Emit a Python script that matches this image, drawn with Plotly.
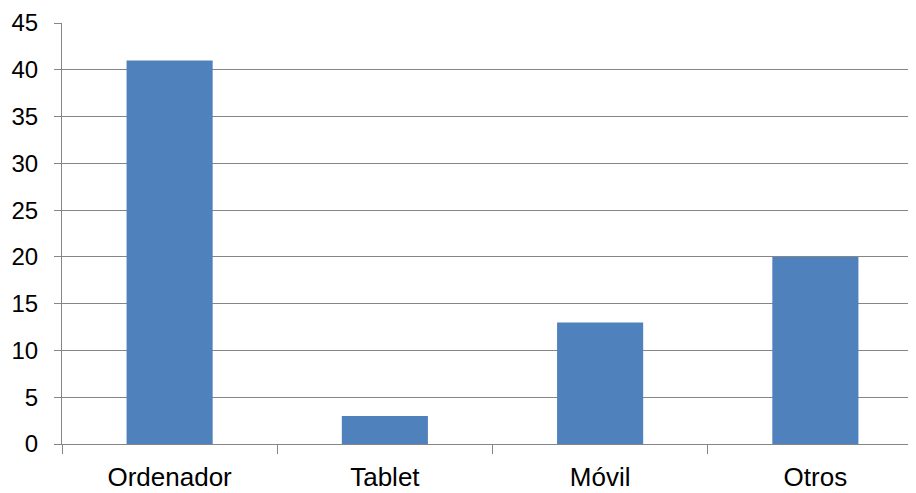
import plotly.graph_objects as go

categories = ["Ordenador", "Tablet", "Móvil", "Otros"]
values = [41, 3, 13, 20]
y_ticks = [0, 5, 10, 15, 20, 25, 30, 35, 40, 45]

fig = go.Figure()
fig.add_trace(go.Bar(
    x=categories, y=values,
    marker=dict(color="#4F81BD", line=dict(width=0)),
    width=0.4,
))

# page body adds an 8px offset; margins compensate so the plot lands where the reference has it
fig.update_layout(
    width=916, height=493,
    margin=dict(l=54, r=8, t=15, b=57),
    paper_bgcolor="white", plot_bgcolor="white",
    showlegend=False,
    font=dict(family="Liberation Sans, Arial, sans-serif", color="black"),
)
fig.update_xaxes(
    type="category",
    range=[-0.5, 3.4675],
    tickson="boundaries",
    ticks="outside", ticklen=9, tickcolor="#868686", tickwidth=1,
    showline=True, linecolor="#868686", linewidth=1,
    showgrid=False,
    tickfont=dict(size=26),
    ticklabelstandoff=10,
    automargin=False,
)
fig.update_yaxes(
    range=[0, 45],
    tickvals=y_ticks,
    ticks="outside", ticklen=7, tickcolor="#868686", tickwidth=1,
    showline=True, linecolor="#868686", linewidth=1,
    showgrid=True, gridcolor="#868686", gridwidth=1,
    zeroline=False,
    tickfont=dict(size=24),
    ticklabelstandoff=11,
    automargin=False,
)

fig.write_html("out.html")
